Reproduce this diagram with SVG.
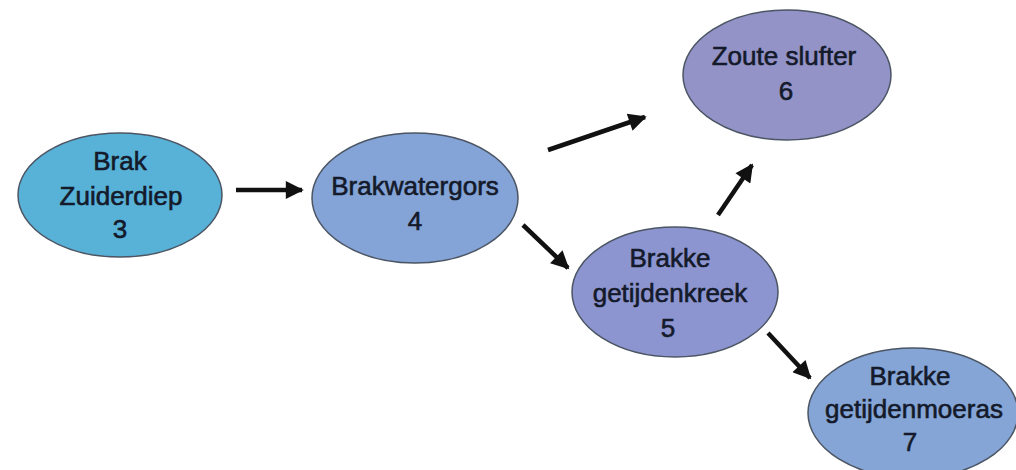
<svg xmlns="http://www.w3.org/2000/svg" width="1016" height="470" viewBox="0 0 1016 470">
<defs>
<marker id="ah" viewBox="0 0 10 10" refX="9" refY="5" markerWidth="5" markerHeight="4" markerUnits="strokeWidth" orient="auto">
<path d="M0,0 L10,5 L0,10 z" fill="#111"/>
</marker>
</defs>
<style>
.n ellipse{stroke:#4b5563;stroke-width:1.5}
.n text{font-family:"Liberation Sans",Arial,sans-serif;font-size:26px;fill:#141a2a;stroke:#141a2a;stroke-width:0.6;text-anchor:middle}
.c line{stroke:#111;stroke-width:4.5;marker-end:url(#ah)}
</style>
<rect width="1016" height="470" fill="#fff"/>
<g id="n3" class="n">
<ellipse cx="120" cy="195" rx="102" ry="62" fill="#58b2d8"/>
<text x="120" y="170">Brak</text>
<text x="121" y="205">Zuiderdiep</text>
<text x="120" y="238">3</text>
</g>
<g id="n4" class="n">
<ellipse cx="415" cy="198" rx="103" ry="65" fill="#84a3d6"/>
<text x="415" y="195">Brakwatergors</text>
<text x="415" y="230">4</text>
</g>
<g id="n6" class="n">
<ellipse cx="787" cy="75" rx="104" ry="65" fill="#9393c8"/>
<text x="784" y="65">Zoute slufter</text>
<text x="786" y="100">6</text>
</g>
<g id="n5" class="n">
<ellipse cx="675" cy="292" rx="103" ry="65" fill="#8d95d0"/>
<text x="670" y="267">Brakke</text>
<text x="670" y="302">getijdenkreek</text>
<text x="668" y="337">5</text>
</g>
<g id="n7" class="n">
<ellipse cx="913" cy="413" rx="105" ry="65" fill="#84a5d6"/>
<text x="910" y="385">Brakke</text>
<text x="914" y="418">getijdenmoeras</text>
<text x="910" y="451">7</text>
</g>
<g id="connectors" class="c">
<line x1="236" y1="190" x2="302" y2="190"/>
<line x1="548" y1="150" x2="645" y2="117"/>
<line x1="523" y1="225" x2="568" y2="268"/>
<line x1="718" y1="215" x2="752" y2="165"/>
<line x1="768" y1="333" x2="810" y2="378"/>
</g>
</svg>
